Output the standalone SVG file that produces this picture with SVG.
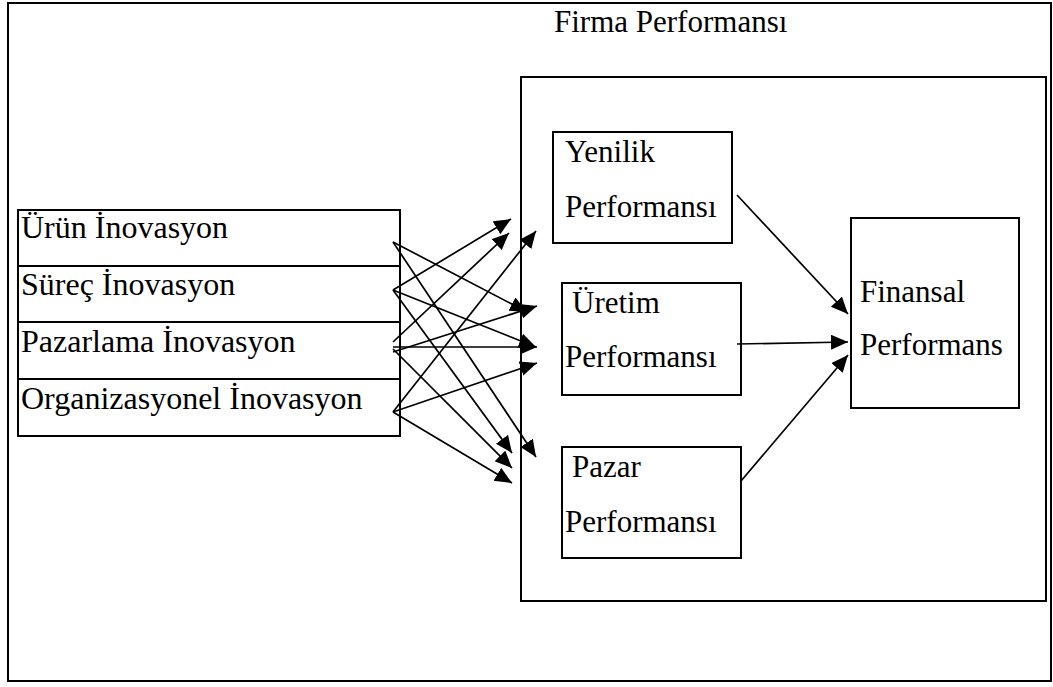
<svg xmlns="http://www.w3.org/2000/svg" width="1053" height="687" viewBox="0 0 1053 687">
<style>
.box{fill:none;stroke:#000;stroke-width:2}
.t{font-family:"Liberation Serif","Times New Roman",serif;font-size:31px;fill:#000}
.tl{font-size:32px}
.c{stroke:#000;stroke-width:1.7;fill:none;marker-end:url(#ah)}
</style>
<defs>
<marker id="ah" markerUnits="userSpaceOnUse" markerWidth="19" markerHeight="16" refX="17" refY="7.5" orient="auto">
<path d="M0,0 L17,7.5 L0,15 z" fill="#000"/>
</marker>
</defs>
<rect width="1053" height="687" fill="#fff"/>
<g id="frame">
<rect class="box" x="8" y="3" width="1043" height="678"/>
<text class="t" x="554" y="32">Firma Performansı</text>
</g>
<g id="firma-box">
<rect class="box" x="521" y="77" width="525" height="524"/>
</g>
<g id="innovation">
<rect class="box" x="18" y="210" width="382" height="226"/>
<line class="box" x1="18" y1="266" x2="400" y2="266"/>
<line class="box" x1="18" y1="322" x2="400" y2="322"/>
<line class="box" x1="18" y1="379" x2="400" y2="379"/>
</g>
<g id="urun"><text class="t tl" x="21" y="238">Ürün İnovasyon</text></g>
<g id="surec"><text class="t tl" x="21" y="295">Süreç İnovasyon</text></g>
<g id="pazarlama"><text class="t tl" x="21" y="352">Pazarlama İnovasyon</text></g>
<g id="organizasyonel"><text class="t tl" x="21" y="409">Organizasyonel İnovasyon</text></g>
<g id="yenilik">
<rect class="box" x="553" y="132" width="179" height="111"/>
<text class="t" x="565" y="162">Yenilik</text>
<text class="t" x="565" y="217">Performansı</text>
</g>
<g id="uretim">
<rect class="box" x="562" y="283" width="179" height="112"/>
<text class="t" x="572" y="313">Üretim</text>
<text class="t" x="565" y="367">Performansı</text>
</g>
<g id="pazar">
<rect class="box" x="562" y="447" width="179" height="111"/>
<text class="t" x="572" y="477">Pazar</text>
<text class="t" x="565" y="532">Performansı</text>
</g>
<g id="finansal">
<rect class="box" x="851" y="218" width="168" height="190"/>
<text class="t" x="860" y="302">Finansal</text>
<text class="t" x="860" y="355">Performans</text>
</g>
<g id="connectors">
<line class="c" x1="393" y1="242" x2="527" y2="312"/>
<line class="c" x1="393" y1="242" x2="536" y2="457"/>
<line class="c" x1="393" y1="290" x2="511" y2="219"/>
<line class="c" x1="393" y1="290" x2="536" y2="347"/>
<line class="c" x1="393" y1="290" x2="512" y2="453"/>
<line class="c" x1="393" y1="342" x2="509" y2="233"/>
<line class="c" x1="393" y1="347" x2="537" y2="347"/>
<line class="c" x1="393" y1="352" x2="537" y2="306"/>
<line class="c" x1="393" y1="349" x2="512" y2="468"/>
<line class="c" x1="393" y1="412" x2="536" y2="231"/>
<line class="c" x1="393" y1="412" x2="537" y2="363"/>
<line class="c" x1="393" y1="412" x2="512" y2="483"/>
<line class="c" x1="737" y1="195" x2="848" y2="314"/>
<line class="c" x1="737" y1="344" x2="848" y2="342"/>
<line class="c" x1="741" y1="481" x2="848" y2="355"/>
</g>
</svg>
